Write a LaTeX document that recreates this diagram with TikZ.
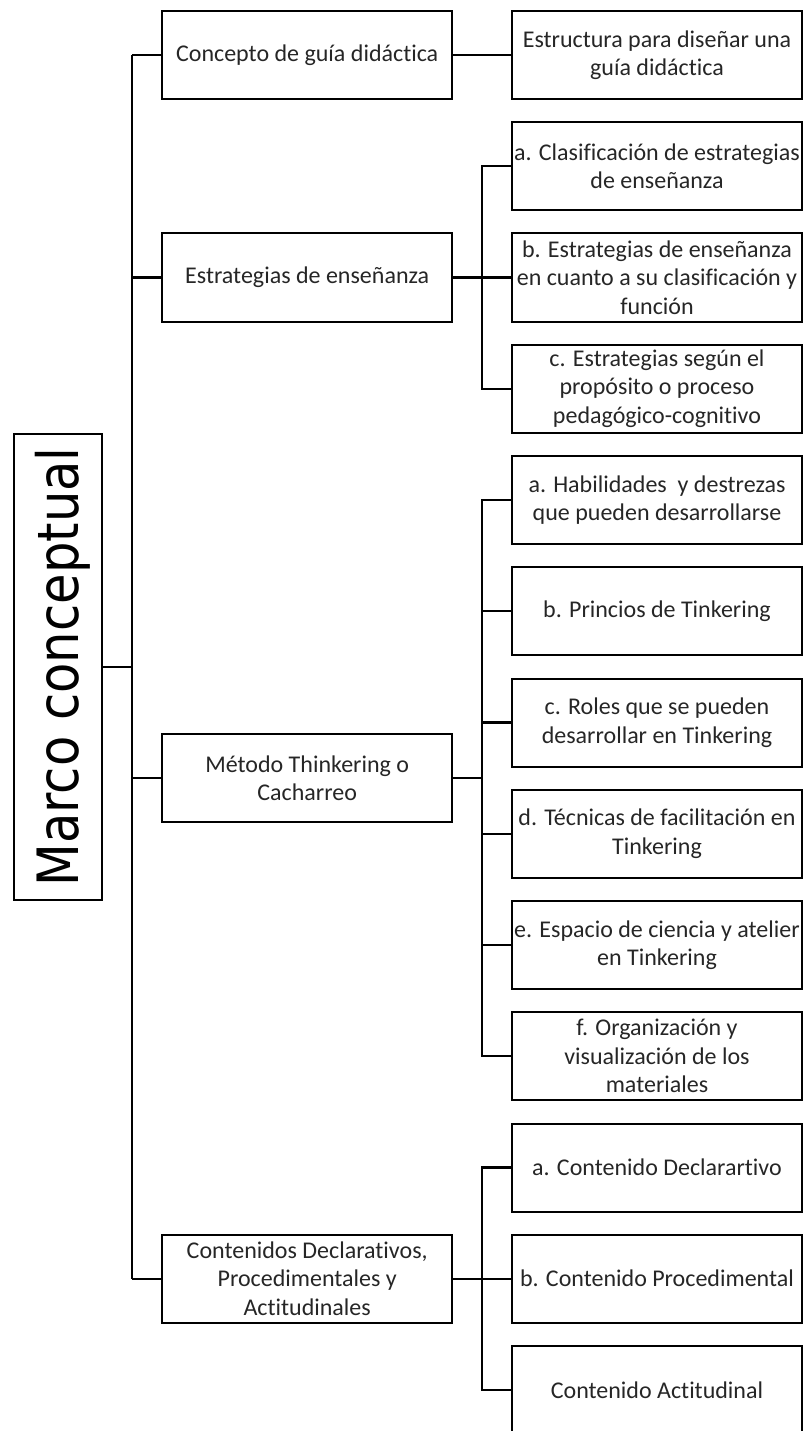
\documentclass[tikz,border=0pt]{standalone}
\usepackage{fontspec}
\setmainfont{Carlito}[Ligatures=NoCommon]
\newfontfamily\marcofont{DejaVu Sans}
\begin{document}
\begin{tikzpicture}[x=1pt,y=-1pt,
  box/.style={draw=black, line width=2pt, minimum width=290pt, minimum height=88pt,
    inner sep=0pt, align=center, text=black!85,
    font=\fontsize{24}{28.5}\selectfont},
  conn/.style={line width=2.3pt, draw=black}]
\useasboundingbox (0,0) rectangle (804,1431);
\clip (0,0) rectangle (804,1431);
% trunk / branch reference coordinates
\coordinate (t) at (132,0);
\coordinate (br) at (482,0);
% root
\node[draw=black, line width=2pt, minimum width=88pt, minimum height=466pt, inner sep=0pt] (marco) at (58,667) {};
\node[rotate=90, anchor=base, font=\marcofont\fontsize{57}{57}\selectfont] (marcotxt) at (78.5,667) {\scalebox{0.87}[1]{Marco conceptual}};
% level 1
\node[box] (concepto) at (307.2,55) {Concepto de guía didáctica};
\node[box] (estr) at (307.2,277.5) {Estrategias de enseñanza};
\node[box] (metodo) at (307.2,778) {Método Thinkering o\\Cacharreo};
\node[box] (conten) at (307.2,1278.7) {Contenidos Declarativos,\\Procedimentales y\\Actitudinales};
% level 2
\node[box] (estruc) at (657,55) {Estructura para diseñar una\\guía didáctica};
\node[box] (ea) at (657,166.2) {a. Clasificación de estrategias\\de enseñanza};
\node[box] (eb) at (657,277.5) {b. Estrategias de enseñanza\\en cuanto a su clasificación y\\función};
\node[box] (ec) at (657,388.7) {c. Estrategias según el\\propósito o proceso\\pedagógico-cognitivo};
\node[box] (ma) at (657,500) {a. Habilidades\ \ y destrezas\\que pueden desarrollarse};
\node[box] (mb) at (657,611.2) {b. Princios de Tinkering};
\node[box] (mc) at (657,722.5) {c. Roles que se pueden\\desarrollar en Tinkering};
\node[box] (md) at (657,833.7) {d. Técnicas de facilitación en\\Tinkering};
\node[box] (me) at (657,945) {e. Espacio de ciencia y atelier\\en Tinkering};
\node[box] (mf) at (657,1056.2) {f. Organización y\\visualización de los\\materiales};
\node[box] (ca) at (657,1167.5) {a. Contenido Declarartivo};
\node[box] (cb) at (657,1278.7) {b. Contenido Procedimental};
\node[box] (cc) at (657,1390) {Contenido Actitudinal};
% root connector and trunk
\draw[conn] (marco.east) -- (marco.east -| t);
\draw[conn] (concepto.west -| t) -- (conten.west -| t);
\draw[conn] (concepto.west -| t) -- (concepto.west);
\draw[conn] (estr.west -| t) -- (estr.west);
\draw[conn] (metodo.west -| t) -- (metodo.west);
\draw[conn] (conten.west -| t) -- (conten.west);
% concepto
\draw[conn] (concepto.east) -- (estruc.west);
% estrategias
\draw[conn] (estr.east) -- (estr.east -| br);
\draw[conn] (ea.west) -- (ea.west -| br) -- (ec.west -| br) -- (ec.west);
\draw[conn] (eb.west -| br) -- (eb.west);
% metodo
\draw[conn] (metodo.east) -- (metodo.east -| br);
\draw[conn] (ma.west) -- (ma.west -| br) -- (mf.west -| br) -- (mf.west);
\draw[conn] (mb.west -| br) -- (mb.west);
\draw[conn] (mc.west -| br) -- (mc.west);
\draw[conn] (md.west -| br) -- (md.west);
\draw[conn] (me.west -| br) -- (me.west);
% contenidos
\draw[conn] (conten.east) -- (conten.east -| br);
\draw[conn] (ca.west) -- (ca.west -| br) -- (cc.west -| br) -- (cc.west);
\draw[conn] (cb.west -| br) -- (cb.west);
\end{tikzpicture}
\end{document}
